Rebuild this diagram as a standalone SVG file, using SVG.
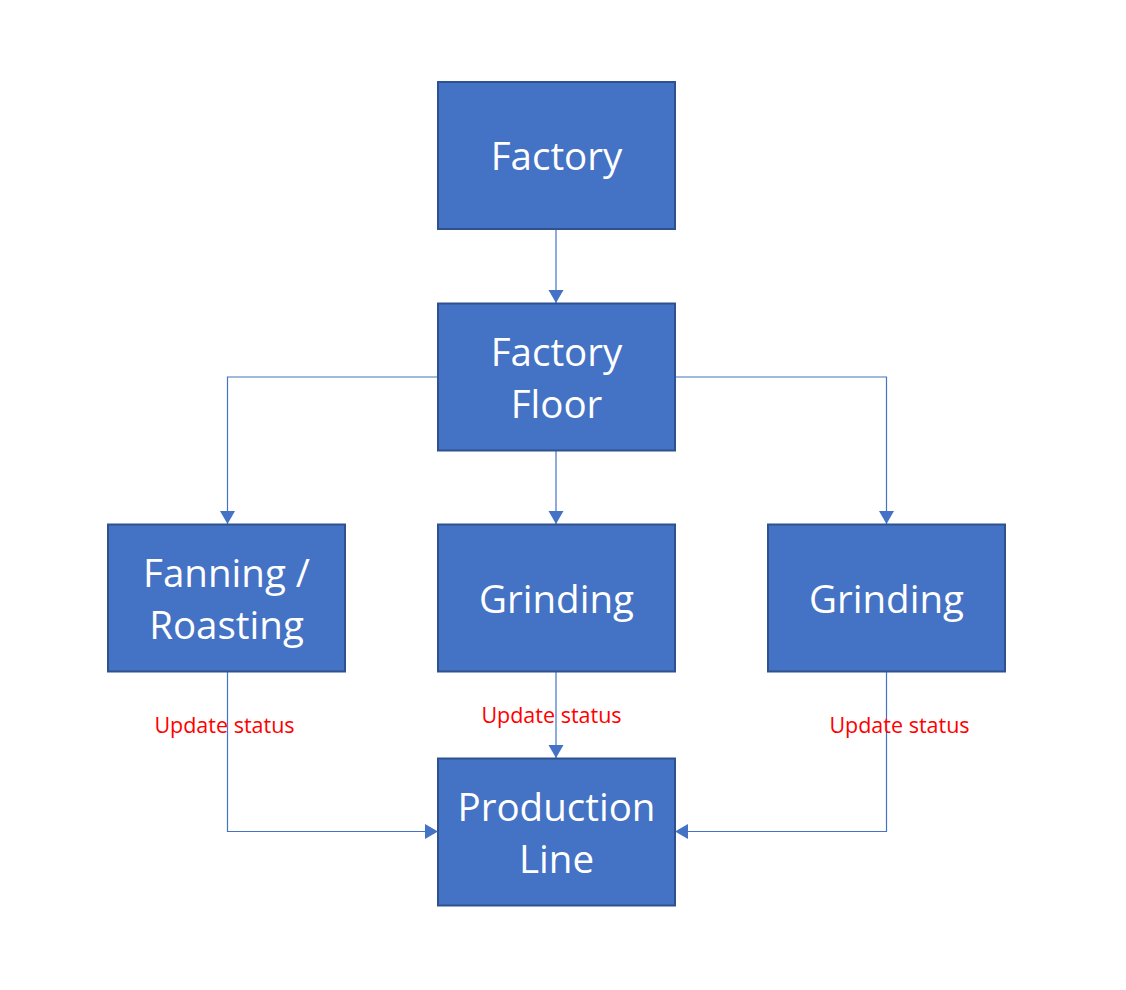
<svg xmlns="http://www.w3.org/2000/svg" width="1126" height="990" viewBox="0 0 1126 990">
<defs>
<style>
.box{fill:#4472C4;stroke:#2F528F;stroke-width:2}
.t{font-family:"Open Sans","Liberation Sans",sans-serif;font-size:38.5px;fill:#FFFFFF;text-anchor:middle}
.c{fill:none;stroke:#4472C4;stroke-width:1.2}
.lbl{font-family:"Open Sans","Liberation Sans",sans-serif;font-size:21.5px;fill:#FF0000;text-anchor:middle}
</style>
<marker id="arr" markerUnits="userSpaceOnUse" markerWidth="16" markerHeight="16" viewBox="0 0 14 16" refX="13" refY="8" orient="auto">
<path d="M0,0.5 L13,8 L0,15.5 Z" fill="#4472C4"/>
</marker>
</defs>
<rect width="1126" height="990" fill="#FFFFFF"/>
<g id="connectors">
<path class="c" d="M556,229 V303" marker-end="url(#arr)"/>
<path class="c" d="M438,377 H227.5 V524" marker-end="url(#arr)"/>
<path class="c" d="M675,377 H886.5 V524" marker-end="url(#arr)"/>
<path class="c" d="M556,450 V524" marker-end="url(#arr)"/>
<path class="c" d="M227.5,671 V831.5 H438" marker-end="url(#arr)"/>
<path class="c" d="M556,671 V758" marker-end="url(#arr)"/>
<path class="c" d="M886.5,671 V831.5 H675" marker-end="url(#arr)"/>
<text class="lbl" x="224.5" y="732.5">Update status</text>
<text class="lbl" x="551.5" y="722.5">Update status</text>
<text class="lbl" x="899.5" y="732.5">Update status</text>
</g>
<g id="factory">
<rect class="box" x="438" y="82" width="237" height="147"/>
<text class="t" x="556.5" y="170">Factory</text>
</g>
<g id="factory-floor">
<rect class="box" x="438" y="303.5" width="237" height="147"/>
<text class="t" x="556.5" y="366">Factory</text>
<text class="t" x="556.5" y="418">Floor</text>
</g>
<g id="fanning-roasting">
<rect class="box" x="108" y="524.5" width="237" height="147"/>
<text class="t" x="226.5" y="587">Fanning /</text>
<text class="t" x="226.5" y="639">Roasting</text>
</g>
<g id="grinding-1">
<rect class="box" x="438" y="524.5" width="237" height="147"/>
<text class="t" x="556.5" y="613">Grinding</text>
</g>
<g id="grinding-2">
<rect class="box" x="768" y="524.5" width="237" height="147"/>
<text class="t" x="886.5" y="613">Grinding</text>
</g>
<g id="production-line">
<rect class="box" x="438" y="758.5" width="237" height="147"/>
<text class="t" x="556.5" y="821">Production</text>
<text class="t" x="556.5" y="873">Line</text>
</g>
</svg>
